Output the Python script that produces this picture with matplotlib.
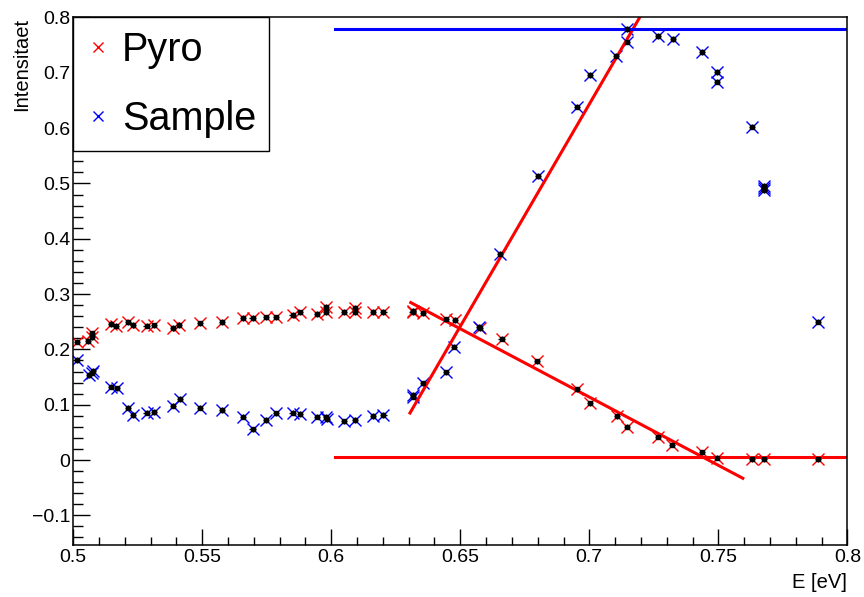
import numpy as np
import matplotlib
matplotlib.use("Agg")
import matplotlib.pyplot as plt
from matplotlib.ticker import MultipleLocator, FuncFormatter

plt.rcParams["font.family"] = ["Liberation Sans", "DejaVu Sans"]

# Pyro measurement (red)
pyro_e = [0.5013, 0.5058, 0.5074, 0.5072, 0.5145, 0.5166, 0.5213, 0.5233, 0.5284, 0.5313,
          0.5388, 0.5410, 0.5491, 0.5575, 0.5657, 0.5695, 0.5747, 0.5786, 0.5850, 0.5879,
          0.5946, 0.5979, 0.5979, 0.6049, 0.6092, 0.6092, 0.6163, 0.6202, 0.6318, 0.6315,
          0.6357, 0.6445, 0.6480, 0.6576, 0.6660, 0.6798, 0.6953, 0.7004, 0.7106, 0.7147,
          0.7265, 0.7322, 0.7436, 0.7494, 0.7630, 0.7677, 0.7885]
pyro_i = [0.214, 0.215, 0.229, 0.222, 0.246, 0.243, 0.249, 0.244, 0.243, 0.2436,
          0.2387, 0.244, 0.247, 0.2495, 0.2568, 0.2568, 0.258, 0.258, 0.2617, 0.267,
          0.264, 0.277, 0.268, 0.2676, 0.2754, 0.267, 0.268, 0.268, 0.270, 0.267,
          0.2653, 0.2544, 0.2532, 0.238, 0.2193, 0.1785, 0.1278, 0.1025, 0.0796, 0.0602,
          0.0421, 0.0277, 0.0139, 0.0042, 0.0013, 0.0013, 0.0013]

# Sample measurement (blue)
sample_e = [0.5013, 0.5062, 0.5071, 0.5078, 0.5145, 0.5168, 0.5213, 0.5233, 0.5284, 0.5313,
            0.5388, 0.5414, 0.5491, 0.5575, 0.5657, 0.5695, 0.5747, 0.5786, 0.5850, 0.5879,
            0.5946, 0.5979, 0.5983, 0.6049, 0.6092, 0.6163, 0.6202, 0.6318, 0.6316, 0.6357,
            0.6445, 0.6477, 0.6574, 0.6654, 0.6801, 0.6953, 0.7003, 0.7103, 0.7147, 0.7145,
            0.7267, 0.7323, 0.7437, 0.7494, 0.7494, 0.7631, 0.7677, 0.7677, 0.7677, 0.7885]
sample_i = [0.181, 0.154, 0.158, 0.1615, 0.1326, 0.1297, 0.0946, 0.0814, 0.0855, 0.0868,
            0.0982, 0.110, 0.0946, 0.0904, 0.0783, 0.0555, 0.0723, 0.0845, 0.0855, 0.0832,
            0.0783, 0.0783, 0.0736, 0.070, 0.0723, 0.0796, 0.0814, 0.1175, 0.1145, 0.1387,
            0.1586, 0.2049, 0.240, 0.3725, 0.5136, 0.6389, 0.6962, 0.7311, 0.7564, 0.7794,
            0.7667, 0.7608, 0.7373, 0.7011, 0.6841, 0.6027, 0.496, 0.4882, 0.492, 0.2501]

err_i = 0.005
err_e = 0.0012

# fitted lines (endpoints)
rise_e, rise_i = [0.6305, 0.7205], [0.085, 0.808]
fall_e, fall_i = [0.6308, 0.7595], [0.2846, -0.033]
base_e, base_i = [0.6016, 0.7998], [0.005, 0.005]
top_e, top_i = [0.6016, 0.7998], [0.779, 0.779]


def fmt(v, pos):
    s = f"{round(v, 4):g}"
    if s == "-0":
        s = "0"
    return s.replace("-", "\u2212")


fig = plt.figure(figsize=(8.64, 5.97), dpi=100)
ax = fig.add_axes([0.0848, 0.0863, 0.8959, 0.8844])

ax.plot(pyro_e, pyro_i, ls="none", marker="x", ms=8.5, mew=1.0, color="red", label="Pyro")
ax.plot(sample_e, sample_i, ls="none", marker="x", ms=8.5, mew=1.0, color="blue", label="Sample")
ax.errorbar(pyro_e, pyro_i, yerr=err_i, xerr=err_e, fmt="s", ms=2.5, color="black",
            elinewidth=1.0, capsize=0)
ax.errorbar(sample_e, sample_i, yerr=err_i, xerr=err_e, fmt="s", ms=2.5, color="black",
            elinewidth=1.0, capsize=0)

ax.plot(rise_e, rise_i, color="red", lw=2.2)
ax.plot(fall_e, fall_i, color="red", lw=2.2)
ax.plot(base_e, base_i, color="red", lw=2.2)
ax.plot(top_e, top_i, color="blue", lw=2.2)

ax.set_xlim(0.5, 0.8)
ax.set_ylim(-0.1545, 0.8)

ax.xaxis.set_major_locator(MultipleLocator(0.05))
ax.xaxis.set_minor_locator(MultipleLocator(0.01))
ax.yaxis.set_major_locator(MultipleLocator(0.1))
ax.yaxis.set_minor_locator(MultipleLocator(0.02))
ax.xaxis.set_major_formatter(FuncFormatter(fmt))
ax.yaxis.set_major_formatter(FuncFormatter(fmt))

ax.tick_params(which="both", direction="in", top=False, right=False, width=1.0,
               labelsize=14)
ax.tick_params(axis="x", which="major", length=11.5, pad=2.5)
ax.tick_params(axis="x", which="minor", length=5.5)
ax.tick_params(axis="y", which="major", length=12, pad=2.0)
ax.tick_params(axis="y", which="minor", length=7)
for sp in ax.spines.values():
    sp.set_linewidth(1.1)

ax.set_xlabel("E [eV]", fontsize=14.5, loc="right")
ax.xaxis.set_label_coords(1.0, -0.052)
ax.set_ylabel("Intensitaet", fontsize=14.5, loc="top")
ax.yaxis.set_label_coords(-0.055, 1.0)

leg = ax.legend(loc="upper left", bbox_to_anchor=(0, 1), borderaxespad=0, fontsize=28.5,
                fancybox=False, edgecolor="black", framealpha=1, handlelength=0.6,
                handletextpad=0.3, borderpad=0.33, labelspacing=0.8, markerscale=0.9)
leg.get_frame().set_linewidth(1.0)
leg.set_zorder(10)

fig.savefig("out.png", dpi=100, facecolor="white")
